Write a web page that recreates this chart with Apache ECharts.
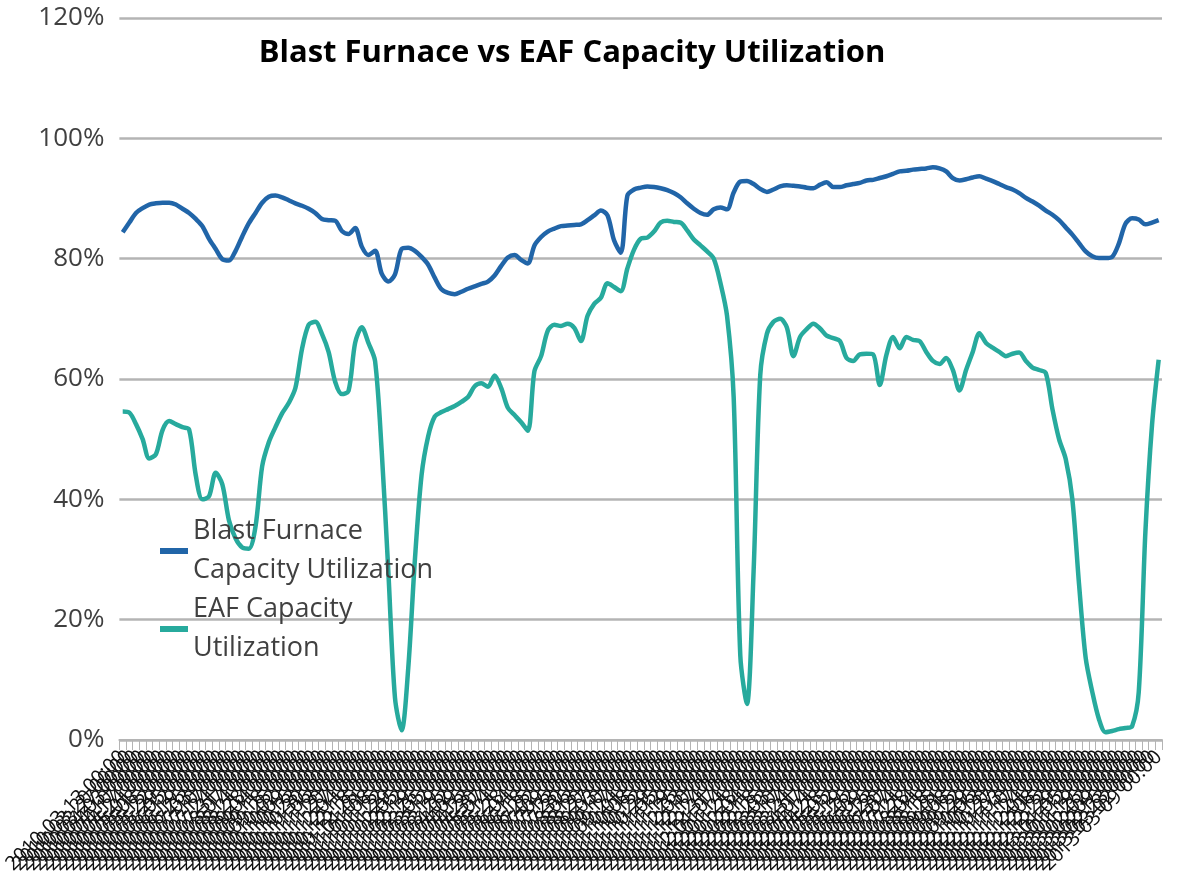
<!DOCTYPE html>
<html>
<head>
<meta charset="utf-8">
<title>Blast Furnace vs EAF Capacity Utilization</title>
<script src="https://cdn.jsdelivr.net/npm/echarts@6/dist/echarts.min.js"></script>
<style>
  html, body { margin: 0; padding: 0; background: #fff; }
  #chart { width: 1178px; height: 883px; }
</style>
</head>
<body>
<div id="chart"></div>
<script>
// weekly series, first week 2010-03-13
const startWeek = "2010-03-13"
const weekCount = 157

const seriesNames = ["Blast Furnace Capacity Utilization", "EAF Capacity Utilization"]
const legendLabels = ["Blast Furnace\nCapacity Utilization", "EAF Capacity\nUtilization"]
const yTicks = [0, 20, 40, 60, 80, 100, 120]

// Blast furnace utilization, %
const blastFurnace = [
  84.4, 86.0, 87.6, 88.4, 89.0, 89.2, 89.3, 89.3, 89.0, 88.3,
  87.6, 86.6, 85.4, 83.3, 81.6, 79.9, 79.7, 81.3, 83.7, 85.9,
  87.6, 89.3, 90.3, 90.5, 90.2, 89.7, 89.2, 88.8, 88.3, 87.6,
  86.6, 86.4, 86.3, 84.6, 84.1, 85.1, 82.0, 80.6, 81.3, 77.5,
  76.2, 77.4, 81.6, 81.8, 81.3, 80.3, 79.0, 76.8, 74.9, 74.3,
  74.1, 74.5, 75.0, 75.4, 75.8, 76.2, 77.2, 78.8, 80.2, 80.6,
  79.8, 79.2, 82.2, 83.6, 84.5, 85.0, 85.4, 85.5, 85.6, 85.7,
  86.4, 87.2, 88.0, 87.2, 83.0, 81.0, 90.5, 91.5, 91.8, 92.0,
  91.9, 91.7, 91.4, 90.9, 90.2, 89.2, 88.3, 87.6, 87.3, 88.2,
  88.5, 88.2, 91.0, 92.8, 92.9, 92.4, 91.6, 91.1, 91.5, 92.0,
  92.2, 92.1, 92.0, 91.8, 91.7, 92.3, 92.7, 91.9, 91.9, 92.2,
  92.4, 92.6, 93.0, 93.1, 93.4, 93.7, 94.1, 94.5, 94.6, 94.8,
  94.9, 95.0, 95.2, 95.0, 94.5, 93.4, 93.0, 93.2, 93.5, 93.7,
  93.3, 92.9, 92.4, 91.9, 91.5, 90.9, 90.1, 89.5, 88.8, 88.0,
  87.3, 86.4, 85.2, 84.0, 82.6, 81.2, 80.4, 80.1, 80.1, 80.3,
  82.5, 85.8, 86.7, 86.5, 85.7, 86.0, 86.4
]

// EAF utilization, %
const eaf = [
  54.6, 54.4, 52.5, 50.0, 46.8, 47.5, 51.5, 53.0, 52.5, 52.0,
  51.6, 44.0, 40.0, 40.5, 44.4, 42.5, 36.5, 33.5, 32.0, 31.8,
  35.5, 45.5, 49.5, 52.0, 54.3, 56.0, 58.5, 65.0, 69.0, 69.5,
  67.5, 64.5, 59.5, 57.5, 58.0, 66.0, 68.6, 66.0, 63.0, 48.0,
  28.0, 7.0, 1.6, 12.0, 30.0, 44.0, 50.5, 53.8, 54.5, 55.0,
  55.5, 56.2, 57.0, 58.8, 59.3, 58.7, 60.6, 58.5, 55.2, 54.0,
  52.8, 51.4, 61.3, 63.8, 68.0, 69.0, 68.8, 69.2, 68.5, 66.3,
  70.5, 72.5, 73.5, 75.9, 75.3, 74.6, 78.4, 81.5, 83.3, 83.5,
  84.5, 86.0, 86.3, 86.1, 86.0, 84.7, 83.2, 82.2, 81.2, 80.0,
  76.0, 70.5, 57.0, 14.0, 6.0, 28.0, 60.6, 67.5, 69.5, 70.0,
  68.6, 63.8, 67.0, 68.3, 69.2, 68.4, 67.2, 66.8, 66.3, 63.5,
  63.0, 64.1, 64.2, 64.1, 59.0, 64.0, 67.0, 65.1, 67.0, 66.5,
  66.3, 64.5, 63.0, 62.5, 63.5, 61.5, 58.1, 61.5, 64.5, 67.6,
  66.0, 65.2, 64.5, 63.8, 64.2, 64.4, 63.0, 61.9, 61.5, 61.0,
  55.0, 50.0, 46.7, 40.0, 26.0, 13.7, 8.0, 3.5, 1.3, 1.5,
  1.8, 2.0, 2.3, 8.0, 34.6, 52.4, 63.2
]

// category labels: one per week
const weeks = []
{
  const d = new Date(startWeek + "T00:00:00Z")
  for (let i = 0; i < weekCount; i++) {
    const t = new Date(d.getTime() + i * 7 * 86400000)
    weeks.push(t.getUTCFullYear() + "-" + String(t.getUTCMonth() + 1).padStart(2, "0") + "-" +
      String(t.getUTCDate()).padStart(2, "0") + " 00:00")
  }
}

const chart = echarts.init(document.getElementById("chart"))

chart.setOption({
  animation: false,
  backgroundColor: "#ffffff",
  title: {
    text: "Blast Furnace vs EAF Capacity Utilization",
    left: 567,
    top: 33,
    textAlign: "center",
    textStyle: {
      fontFamily: "Open Sans",
      fontWeight: "bold",
      fontSize: 31,
      color: "#000000",
    },
  },
  legend: {
    orient: "vertical",
    left: 160,
    top: 512,
    padding: 0,
    itemWidth: 28,
    itemHeight: 6,
    itemGap: 0,
    icon: "rect",
    data: seriesNames,
    formatter: name => legendLabels[seriesNames.indexOf(name)],
    textStyle: {
      fontFamily: "Open Sans",
      fontSize: 27,
      lineHeight: 39,
      color: "#404040",
    },
  },
  grid: {
    left: 118,
    right: 16,
    top: 18,
    bottom: 143,
    containLabel: false,
  },
  xAxis: {
    type: "category",
    data: weeks,
    boundaryGap: true,
    axisLine: { lineStyle: { color: "#b4b4b4", width: 2 } },
    axisTick: { show: true, interval: 0, length: 10, lineStyle: { color: "#b4b4b4", width: 1 } },
    axisLabel: {
      interval: 0,
      rotate: 45,
      hideOverlap: false,
      margin: 14,
      fontFamily: "Open Sans",
      fontSize: 20,
      color: "#111111",
    },
    splitLine: { show: false },
  },
  yAxis: {
    type: "value",
    min: yTicks[0],
    max: yTicks[yTicks.length - 1],
    interval: 20,
    axisLine: { show: false },
    axisTick: { show: false },
    axisLabel: {
      margin: 15,
      fontFamily: "Open Sans",
      fontSize: 26,
      color: "#404040",
      formatter: value => value + "%",
    },
    splitLine: { lineStyle: { color: "#b4b4b4", width: 2.5 } },
  },
  series: [
    {
      name: seriesNames[0],
      type: "line",
      data: blastFurnace,
      showSymbol: false,
      smooth: 0.3,
      lineStyle: { width: 4.5, color: "#2165a8" },
      itemStyle: { color: "#2165a8" },
    },
    {
      name: seriesNames[1],
      type: "line",
      data: eaf,
      showSymbol: false,
      smooth: 0.3,
      lineStyle: { width: 4.5, color: "#27aa9d" },
      itemStyle: { color: "#27aa9d" },
    },
  ],
})
</script>
</body>
</html>
